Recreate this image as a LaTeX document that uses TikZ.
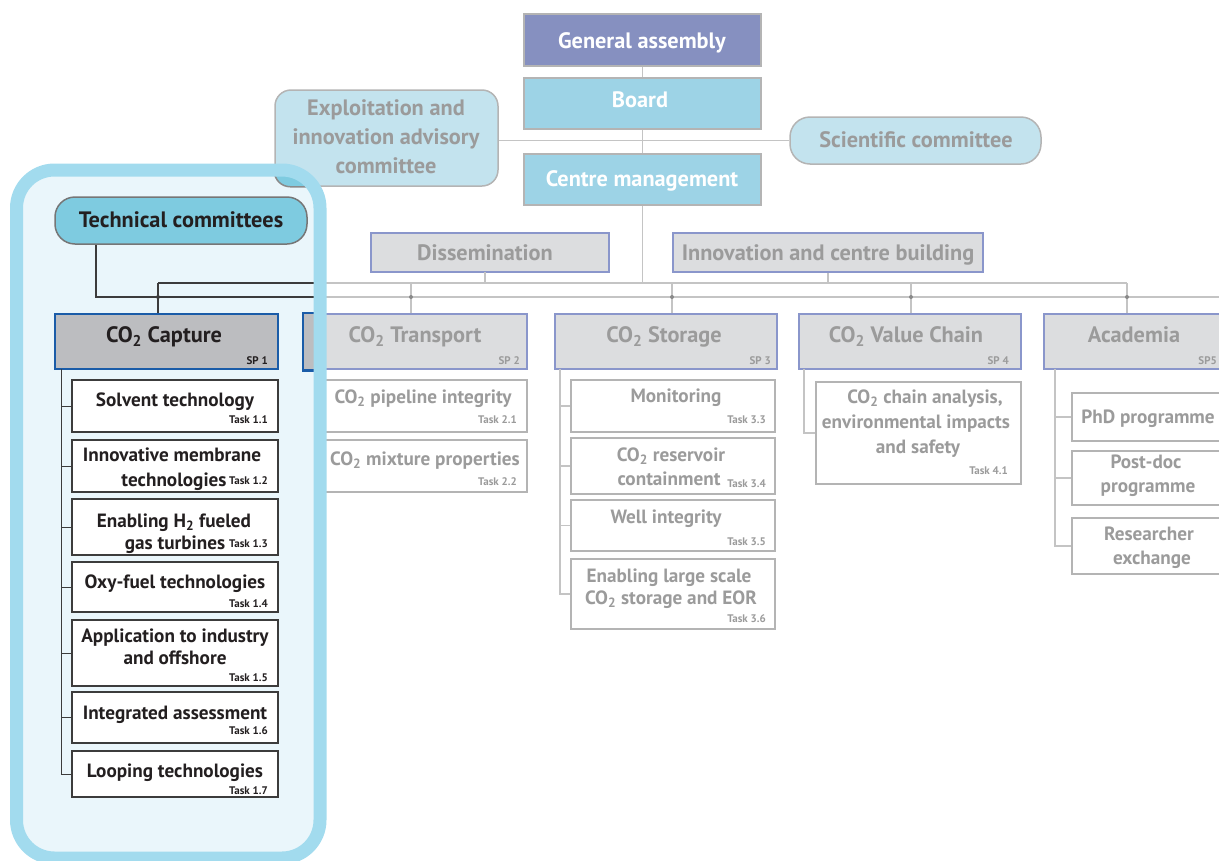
\documentclass[tikz,border=0pt]{standalone}
\usepackage{fontspec}
\setmainfont{PT Sans}
\usetikzlibrary{fit}
\definecolor{gaC}{HTML}{8690C0}
\definecolor{brdC}{HTML}{9DD3E6}
\definecolor{advC}{HTML}{C3E3EE}
\definecolor{tcC}{HTML}{7ECBE0}
\definecolor{spC}{HTML}{DCDDDF}
\definecolor{spB}{HTML}{8A96CB}
\definecolor{capC}{HTML}{BCBDC0}
\definecolor{capB}{HTML}{1A5CA8}
\definecolor{txG}{HTML}{9B9B9B}
\definecolor{txD}{HTML}{231F20}
\definecolor{lnG}{HTML}{C4C4C4}
\definecolor{lnD}{HTML}{3C3C3C}
\definecolor{panF}{HTML}{EAF6FB}
\definecolor{panB}{HTML}{A2DBEE}
\definecolor{bxG}{HTML}{B4B4B4}
\begin{document}
\begin{tikzpicture}[x=1pt,y=-1pt,
  box/.style={draw, inner sep=0pt, line width=1.5pt},
  topbox/.style={box, draw=bxG, fill=brdC},
  advbox/.style={box, draw=bxG, fill=advC},
  spbox/.style={box, draw=spB, fill=spC, line width=2.5pt},
  capbox/.style={box, draw=capB, fill=capC, line width=2.5pt},
  gtask/.style={box, draw=bxG, fill=white, line width=1.5pt},
  dtask/.style={box, draw=lnD, fill=white, line width=1.8pt},
  gl/.style={draw=lnG, line width=1.3pt},
  dl/.style={draw=lnD, line width=1.3pt},
  hd/.style={font=\bfseries\fontsize{22.3}{26}\selectfont, inner sep=0pt, anchor=base},
  tk/.style={font=\bfseries\fontsize{19.2}{23}\selectfont, inner sep=0pt, anchor=base},
  tg/.style={font=\bfseries\fontsize{11}{13}\selectfont, inner sep=0pt, anchor=base east},
  gt/.style={text=txG}, dt/.style={text=txD}, wt/.style={text=white}
]
\useasboundingbox (0,0) rectangle (1219,860);
\clip (0,0) rectangle (1219,860);

% ---------- top level ----------
\node[box, draw=bxG, fill=gaC, fit={(524,14)(761,66)}] (ga) {};
\node[topbox, fit={(524,78)(761,129)}] (board) {};
\node[topbox, fit={(524,154)(761,205)}] (cm) {};
\node[advbox, rounded corners=16pt, fit={(275,90)(498,186)}] (expl) {};
\node[advbox, rounded corners=20pt, fit={(790,117)(1041,164)}] (sci) {};
\node[spbox, line width=2pt, fit={(371,233)(609,272)}] (dis) {};
\node[spbox, line width=2pt, fit={(673,233)(983,272)}] (inn) {};

\node[hd, wt] (gat) at (642,48) {General assembly};
\node[hd, wt] (boardt) at (640,107) {Board};
\node[hd, wt] (cmt) at (642,186) {Centre management};
\node[hd, gt] (ex1) at (386,115) {Exploitation and};
\node[hd, gt] (ex2) at (386,144) {innovation advisory};
\node[hd, gt] (ex3) at (386,173) {committee};
\node[hd, gt] (scit) at (916,147) {Scientific committee};
\node[hd, gt] (dist) at (485,260) {Dissemination};
\node[hd, gt] (innt) at (828,260) {Innovation and centre building};

% ---------- SP headers (grey) ----------
\node[spbox, fit={(304,314)(527,369)}] (sp2) {};
\node[spbox, fit={(555,314)(777,369)}] (sp3) {};
\node[spbox, fit={(799,314)(1021,369)}] (sp4) {};
\node[spbox, fit={(1044,314)(1232,369)}] (sp5) {};
\node[hd, gt] (sp2t) at (415,342) {CO\textsubscript{2} Transport};
\node[tg, gt] (sp2n) at (520,364) {SP 2};
\node[hd, gt] (sp3t) at (664,342) {CO\textsubscript{2} Storage};
\node[tg, gt] (sp3n) at (771,364) {SP 3};
\node[hd, gt] (sp4t) at (906,342) {CO\textsubscript{2} Value Chain};
\node[tg, gt] (sp4n) at (1009,364) {SP 4};
\node[hd, gt] (sp5t) at (1134,342) {Academia};
\node[tg, gt] (sp5n) at (1217,364) {SP5};

% ---------- SP2 tasks ----------
\node[gtask, fit={(318,380)(527,432)}] (t21) {};
\node[tk, gt] (t21a) at (423,403) {CO\textsubscript{2} pipeline integrity};
\node[tg, gt] (t21n) at (517,423) {Task 2.1};
\node[gtask, fit={(318,440)(527,492)}] (t22) {};
\node[tk, gt] (t22a) at (425,465) {CO\textsubscript{2} mixture properties};
\node[tg, gt] (t22n) at (517,485) {Task 2.2};

% ---------- SP3 tasks ----------
\node[gtask, fit={(571,380)(775,432)}] (t33) {};
\node[tk, gt] (t33a) at (676,402) {Monitoring};
\node[tg, gt] (t33n) at (766,423) {Task 3.3};
\node[gtask, fit={(571,438)(775,494)}] (t34) {};
\node[tk, gt] (t34a) at (671,461) {CO\textsubscript{2} reservoir};
\node[tk, gt] (t34b) at (669,485) {containment};
\node[tg, gt] (t34n) at (766,487) {Task 3.4};
\node[gtask, fit={(571,500)(775,551)}] (t35) {};
\node[tk, gt] (t35a) at (666,523) {Well integrity};
\node[tg, gt] (t35n) at (766,545) {Task 3.5};
\node[gtask, fit={(571,559)(775,629)}] (t36) {};
\node[tk, gt] (t36a) at (669,582) {Enabling large scale};
\node[tk, gt] (t36b) at (671,604) {CO\textsubscript{2} storage and EOR};
\node[tg, gt] (t36n) at (766,622) {Task 3.6};

% ---------- SP4 task ----------
\node[gtask, fit={(816,382)(1021,484)}] (t41) {};
\node[tk, gt] (t41a) at (925,403) {CO\textsubscript{2} chain analysis,};
\node[tk, gt] (t41b) at (916,428) {environmental impacts};
\node[tk, gt] (t41c) at (918,453) {and safety};
\node[tg, gt] (t41n) at (1008,474) {Task 4.1};

% ---------- SP5 items ----------
\node[gtask, fit={(1072,393)(1226,441)}] (phd) {};
\node[tk, gt] (phdt) at (1148,423) {PhD programme};
\node[gtask, fit={(1072,451)(1226,505)}] (pdoc) {};
\node[tk, gt] (pdoca) at (1146,468) {Post-doc};
\node[tk, gt] (pdocb) at (1148,492) {programme};
\node[gtask, fit={(1072,518)(1226,574)}] (res) {};
\node[tk, gt] (resa) at (1149,540) {Researcher};
\node[tk, gt] (resb) at (1152,564) {exchange};

% ---------- grey connectors ----------
\coordinate (bu0) at (158,283);
\coordinate (bu1) at (1127,283);
\coordinate (tcf) at (96,244);
\coordinate (blE) at (1232,297);
\coordinate (d2) at (411,283);
\coordinate (d3) at (672,283);
\coordinate (d4) at (911,283);
\coordinate (d5) at (1127,283);
\coordinate (dd) at (485,272);
\draw[gl] (ga) -- (board);
\draw[gl] (board) -- (cm);
\draw[gl] (cm.south) -- (cm.south |- bu0);
\draw[gl] (sci.west -| expl.east) -- (sci.west);
\draw[gl] (dd) -- (dd |- bu0);
\draw[gl] (inn.south) -- (inn.south |- bu0);
\draw[gl] (bu0) -- (bu1);
\draw[gl] (tcf) |- (blE);
\draw[gl] (d2) -- (d2 |- sp2.north);
\draw[gl] (d3) -- (d3 |- sp3.north);
\draw[gl] (d4) -- (d4 |- sp4.north);
\draw[gl] (d5) -- (d5 |- sp5.north);
\foreach \x in {411,672,911,1127} \fill[lnG!70!black] (\x,297) circle (2pt);
\coordinate (s3r) at (560,369);
\foreach \t in {t33,t34,t35,t36} \draw[gl] (s3r) |- (\t.west);
\coordinate (s4r) at (804,369);
\draw[gl] (s4r) |- (t41.west);
\coordinate (s5r) at (1055,369);
\foreach \t in {phd,pdoc,res} \draw[gl] (s5r) |- (\t.west);

% ---------- highlight panel ----------
\path[fill=panF, rounded corners=38pt] (16.5,170) rectangle (320,858);
\begin{scope}
  \clip[rounded corners=38pt] (16.5,170) rectangle (320,858);
  \draw[line width=1.5pt, draw=lnD!60, fill=tcC, rounded corners=16pt] (expl.south west) rectangle (expl.north east);
  \draw[line width=2.5pt, draw=capB, fill=capC] (sp2.south west) rectangle (sp2.north east);
  \draw[dl] (bu0) -- (bu1);
  \draw[dl] (tcf) |- (blE);
\end{scope}

\node[box, draw=lnD!70, fill=tcC, rounded corners=20pt, fit={(55,197)(307,244)}] (tc) {};
\node[hd, dt] (tct) at (181,227) {Technical committees};
\node[capbox, fit={(55,314)(278,369)}] (sp1) {};
\node[hd, dt] (sp1t) at (164,342) {CO\textsubscript{2} Capture};
\node[tg, dt] (sp1n) at (268,364) {SP 1};
\draw[dl] (bu0) -- (bu0 |- sp1.north);
\fill[lnD] (158,297) circle (2pt);

% ---------- SP1 tasks ----------
\node[dtask, fit={(72,380)(278,432)}] (t11) {};
\node[tk, dt] (t11a) at (175,406) {Solvent technology};
\node[tg, dt] (t11n) at (268,423) {Task 1.1};
\node[dtask, fit={(72,440)(278,492)}] (t12) {};
\node[tk, dt] (t12a) at (172,461) {Innovative membrane};
\node[tk, dt] (t12b) at (174,486) {technologies};
\node[tg, dt] (t12n) at (268,484) {Task 1.2};
\node[dtask, fit={(72,499)(278,555)}] (t13) {};
\node[tk, dt] (t13a) at (174,527) {Enabling H\textsubscript{2} fueled};
\node[tk, dt] (t13b) at (175,549) {gas turbines};
\node[tg, dt] (t13n) at (268,547) {Task 1.3};
\node[dtask, fit={(72,562)(278,612)}] (t14) {};
\node[tk, dt] (t14a) at (175,588) {Oxy-fuel technologies};
\node[tg, dt] (t14n) at (268,607) {Task 1.4};
\node[dtask, fit={(72,620)(278,686)}] (t15) {};
\node[tk, dt] (t15a) at (175,642) {Application to industry};
\node[tk, dt] (t15b) at (175,664) {and offshore};
\node[tg, dt] (t15n) at (268,681) {Task 1.5};
\node[dtask, fit={(72,692)(278,743)}] (t16) {};
\node[tk, dt] (t16a) at (175,719) {Integrated assessment};
\node[tg, dt] (t16n) at (268,734) {Task 1.6};
\node[dtask, fit={(72,751)(278,797)}] (t17) {};
\node[tk, dt] (t17a) at (175,777) {Looping technologies};
\node[tg, dt] (t17n) at (268,794) {Task 1.7};
\coordinate (s1r) at (61,369);
\foreach \t in {t11,t12,t13,t14,t15,t16,t17} \draw[dl, line width=1pt] (s1r) |- (\t.west);

% panel border on top
\draw[draw=panB, line width=13pt, rounded corners=38pt] (16.5,170) rectangle (320,858);
\end{tikzpicture}
\end{document}
